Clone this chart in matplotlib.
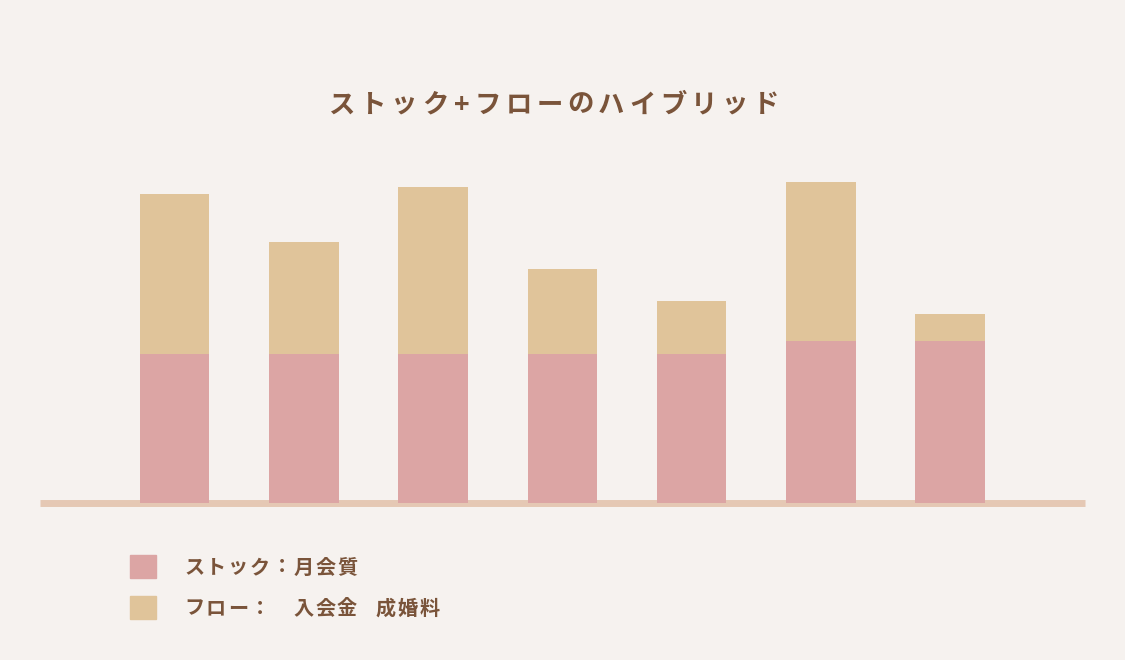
import matplotlib
matplotlib.use("Agg")
import matplotlib.pyplot as plt
from matplotlib.patches import Rectangle

# data
labels = ["1", "2", "3", "4", "5", "6", "7"]
stock = [60, 60, 60, 60, 60, 65, 65]
flow = [64, 45, 67, 34, 21, 64, 11]

title = "ストック+フローのハイブリッド"
legend_labels = ["ストック：月会質", "フロー：　入会金 成婚料"]

bg = "#F6F2EF"
c_stock = "#DCA5A4"
c_flow = "#E0C49A"
c_base = "#E5C8B4"
c_text = "#7A543A"

plt.rcParams['font.family'] = ['Noto Sans CJK JP', 'DejaVu Sans']

W, H = 1125, 660
fig = plt.figure(figsize=(W / 100, H / 100), dpi=100, facecolor=bg)


def fx(px):
    return px / W


def fy(py):
    return 1 - py / H


# axes placed in pixel terms: left 40, right 1085, bottom 503, top 150
ax = fig.add_axes([fx(40), fy(503), fx(1085 - 40), (503 - 150) / H])
ax.set_facecolor("none")
x = list(range(len(labels)))
ax.bar(x, stock, width=0.537, color=c_stock, zorder=3)
ax.bar(x, flow, bottom=stock, width=0.537, color=c_flow, zorder=3)
ax.axhline(0, color=c_base, lw=5, zorder=2, solid_capstyle="butt", clip_on=False)
ax.set_xlim(-1.041, 7.044)
ax.set_ylim(0, 353 / 2.49)
ax.axis("off")

renderer = fig.canvas.get_renderer()


def spaced_text(s, x_px, y_px, size, spacing, ha="left"):
    # draw char by char, full-width chars get one em each
    em = size * 100 / 72
    widths = []
    for ch in s:
        if ch == " ":
            widths.append(em * 0.75)
        elif ord(ch) > 0x2000:
            widths.append(em)
        else:
            t = fig.text(0, 0, ch, fontsize=size, fontweight="bold")
            widths.append(t.get_window_extent(renderer).width + 2)
            t.remove()
    total = sum(widths) + spacing * (len(s) - 1)
    cur = x_px - total / 2 if ha == "center" else x_px
    for ch, w in zip(s, widths):
        if ch.strip():
            fig.text(fx(cur + w / 2), fy(y_px), ch, fontsize=size, fontweight="bold",
                     color=c_text, ha="center", va="center")
        cur += w + spacing


spaced_text(title, 554, 105, 19, 4.5, ha="center")

sq = [(130, 555, c_stock), (130, 596, c_flow)]
for (sx, sy, c), lab, ty in zip(sq, legend_labels, [567, 608]):
    fig.patches.append(Rectangle((fx(sx), fy(sy + 23)), 26 / W, 23 / H,
                                 transform=fig.transFigure, color=c, figure=fig))
    spaced_text(lab, 184, ty, 14.5, 1.7)

fig.savefig("out.png", dpi=100, facecolor=bg)
